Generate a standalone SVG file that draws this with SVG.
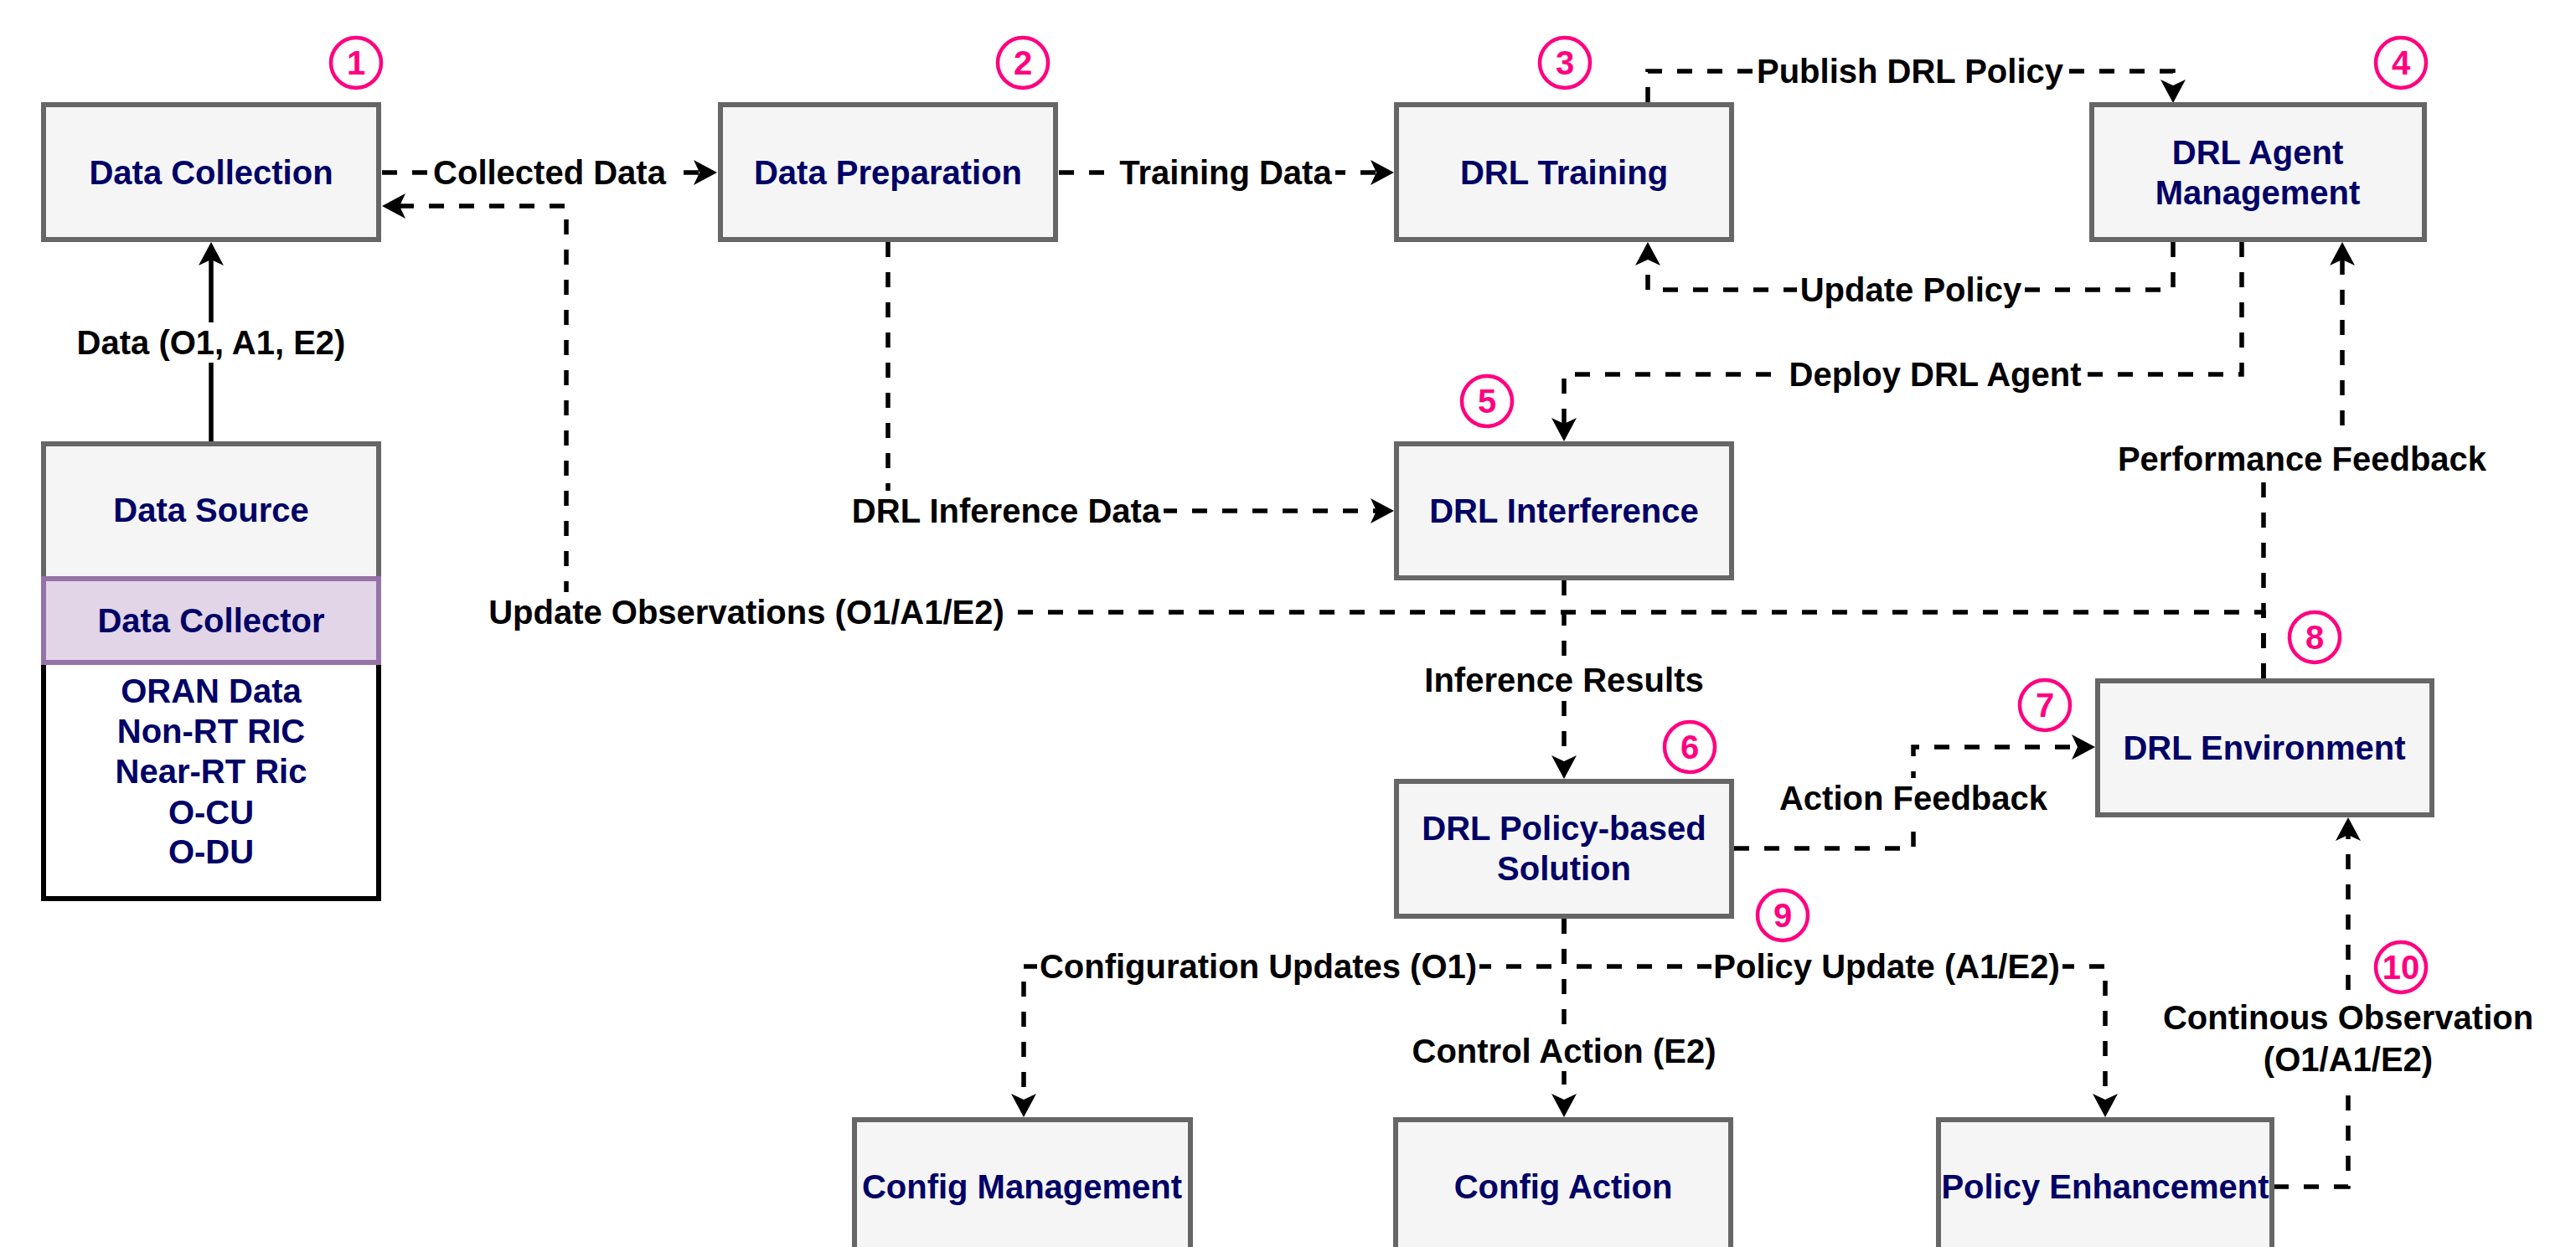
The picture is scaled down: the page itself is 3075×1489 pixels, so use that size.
<svg xmlns="http://www.w3.org/2000/svg" width="3075" height="1489" viewBox="0 0 3075 1489">
  <style>
    .box { fill: #f5f5f5; stroke: #666666; stroke-width: 6; }
    .nt { font-family: "Liberation Sans", Arial, Helvetica, sans-serif; font-weight: bold; font-size: 40px; fill: #000066; text-anchor: middle; }
    .lt { font-family: "Liberation Sans", Arial, Helvetica, sans-serif; font-weight: bold; font-size: 40px; fill: #000000; text-anchor: middle; }
    .lbg { fill: #ffffff; }
    .edge { fill: none; stroke: #000000; stroke-width: 5.5; stroke-dasharray: 18 18; }
    .solid { stroke-dasharray: none; }
    .badge circle { fill: #ffffff; stroke: #FF0080; stroke-width: 4.5; }
    .badge text { font-family: "Liberation Sans", Arial, Helvetica, sans-serif; font-weight: bold; font-size: 40px; fill: #FF0080; text-anchor: middle; }
  </style>
  <defs>
    <marker id="arr" viewBox="-8 -16 30 32" markerWidth="30" markerHeight="32" refX="0" refY="0" orient="auto" markerUnits="userSpaceOnUse" overflow="visible">
      <path d="M21,0 L-7,-15 L0,0 L-7,15 Z" fill="#000000"/>
    </marker>
  </defs>
  <rect width="3075" height="1489" fill="#ffffff"/>

  <!-- connectors -->
  <g id="connectors">
    <path class="edge solid" d="M252,527 V310" marker-end="url(#arr)"/>
    <path class="edge" d="M456,206 H835" marker-end="url(#arr)"/>
    <path class="edge" d="M2702,810 V731 H676 V246 H477" marker-end="url(#arr)"/>
    <path class="edge" d="M1264,206 H1643" marker-end="url(#arr)"/>
    <path class="edge" d="M1967,122 V85 H2594 V102" marker-end="url(#arr)"/>
    <path class="edge" d="M2594,289 V346 H1967 V310" marker-end="url(#arr)"/>
    <path class="edge" d="M2676,289 V447 H1867 V506" marker-end="url(#arr)"/>
    <path class="edge" d="M2702,810 V548 H2796 V310" marker-end="url(#arr)"/>
    <path class="edge" d="M1060,289 V610 H1643" marker-end="url(#arr)"/>
    <path class="edge" d="M1867,693 V909" marker-end="url(#arr)"/>
    <path class="edge" d="M2070,1013 H2284 V892 H2480" marker-end="url(#arr)"/>
    <path class="edge" d="M1867,1097 V1154 H1222 V1313" marker-end="url(#arr)"/>
    <path class="edge" d="M1867,1097 V1313" marker-end="url(#arr)"/>
    <path class="edge" d="M1867,1097 V1154 H2513 V1313" marker-end="url(#arr)"/>
    <path class="edge" d="M2714,1417 H2803 V997" marker-end="url(#arr)"/>

    <!-- connector labels -->
    <g id="edge-labels">
      <rect class="lbg" x="88" y="385" width="328" height="48"/>
      <text class="lt" x="252" y="423">Data (O1, A1, E2)</text>
      <rect class="lbg" x="514" y="182" width="284" height="48"/>
      <text class="lt" x="656" y="220">Collected Data</text>
      <rect class="lbg" x="1332" y="182" width="262" height="48"/>
      <text class="lt" x="1463" y="220">Training Data</text>
      <rect class="lbg" x="2093" y="61" width="373" height="48"/>
      <text class="lt" x="2280" y="99">Publish DRL Policy</text>
      <rect class="lbg" x="2145" y="322" width="271" height="48"/>
      <text class="lt" x="2281" y="360">Update Policy</text>
      <rect class="lbg" x="2131" y="423" width="357" height="48"/>
      <text class="lt" x="2310" y="461">Deploy DRL Agent</text>
      <rect class="lbg" x="2525" y="524" width="446" height="48"/>
      <text class="lt" x="2748" y="562">Performance Feedback</text>
      <rect class="lbg" x="1014" y="586" width="375" height="48"/>
      <text class="lt" x="1201" y="624">DRL Inference Data</text>
      <rect class="lbg" x="580" y="707" width="622" height="48"/>
      <text class="lt" x="891" y="745">Update Observations (O1/A1/E2)</text>
      <rect class="lbg" x="1697" y="788" width="340" height="48"/>
      <text class="lt" x="1867" y="826">Inference Results</text>
      <rect class="lbg" x="2121" y="929" width="326" height="48"/>
      <text class="lt" x="2284" y="967">Action Feedback</text>
      <rect class="lbg" x="1238" y="1130" width="528" height="48"/>
      <text class="lt" x="1502" y="1168">Configuration Updates (O1)</text>
      <rect class="lbg" x="1682" y="1231" width="370" height="48"/>
      <text class="lt" x="1867" y="1269">Control Action (E2)</text>
      <rect class="lbg" x="2043" y="1130" width="419" height="48"/>
      <text class="lt" x="2252" y="1168">Policy Update (A1/E2)</text>
      <rect class="lbg" x="2579" y="1190" width="448" height="100"/>
      <text class="lt" x="2803" y="1229">Continous Observation</text>
      <text class="lt" x="2803" y="1279">(O1/A1/E2)</text>
    </g>
  </g>

  <!-- nodes -->
  <g id="data-collection">
    <rect class="box" x="52" y="125" width="400" height="161"/>
    <text class="nt" x="252" y="220">Data Collection</text>
  </g>
  <g id="data-preparation">
    <rect class="box" x="860" y="125" width="400" height="161"/>
    <text class="nt" x="1060" y="220">Data Preparation</text>
  </g>
  <g id="drl-training">
    <rect class="box" x="1667" y="125" width="400" height="161"/>
    <text class="nt" x="1867" y="220">DRL Training</text>
  </g>
  <g id="drl-agent-management">
    <rect class="box" x="2497" y="125" width="397" height="161"/>
    <text class="nt" x="2695" y="196">DRL Agent</text>
    <text class="nt" x="2695" y="244">Management</text>
  </g>
  <g id="data-source">
    <rect x="52" y="791" width="400" height="282" fill="#ffffff" stroke="#000000" stroke-width="6"/>
    <rect class="box" x="52" y="530" width="400" height="161"/>
    <rect x="52" y="691" width="400" height="100" fill="#e1d5e7" stroke="#9673a6" stroke-width="6"/>
    <text class="nt" x="252" y="623">Data Source</text>
    <text class="nt" x="252" y="755">Data Collector</text>
    <text class="nt" x="252" y="839">ORAN Data</text>
    <text class="nt" x="252" y="887">Non-RT RIC</text>
    <text class="nt" x="252" y="935">Near-RT Ric</text>
    <text class="nt" x="252" y="984">O-CU</text>
    <text class="nt" x="252" y="1031">O-DU</text>
  </g>
  <g id="drl-interference">
    <rect class="box" x="1667" y="530" width="400" height="160"/>
    <text class="nt" x="1867" y="624">DRL Interference</text>
  </g>
  <g id="drl-environment">
    <rect class="box" x="2504" y="813" width="399" height="160"/>
    <text class="nt" x="2703" y="907">DRL Environment</text>
  </g>
  <g id="drl-policy-solution">
    <rect class="box" x="1667" y="933" width="400" height="161"/>
    <text class="nt" x="1867" y="1003">DRL Policy-based</text>
    <text class="nt" x="1867" y="1051">Solution</text>
  </g>
  <g id="config-management">
    <rect class="box" x="1020" y="1337" width="401" height="161"/>
    <text class="nt" x="1220" y="1431">Config Management</text>
  </g>
  <g id="config-action">
    <rect class="box" x="1666" y="1337" width="400" height="161"/>
    <text class="nt" x="1866" y="1431">Config Action</text>
  </g>
  <g id="policy-enhancement">
    <rect class="box" x="2314" y="1337" width="398" height="161"/>
    <text class="nt" x="2513" y="1431">Policy Enhancement</text>
  </g>

  <!-- step badges -->
  <g id="step-badges" class="badge">
    <g id="step-1"><circle cx="425" cy="75" r="30"/><text x="425" y="89">1</text></g>
    <g id="step-2"><circle cx="1221" cy="75" r="30"/><text x="1221" y="89">2</text></g>
    <g id="step-3"><circle cx="1868" cy="75" r="30"/><text x="1868" y="89">3</text></g>
    <g id="step-4"><circle cx="2866" cy="75" r="30"/><text x="2866" y="89">4</text></g>
    <g id="step-5"><circle cx="1775" cy="479" r="30"/><text x="1775" y="493">5</text></g>
    <g id="step-6"><circle cx="2017" cy="892" r="30"/><text x="2017" y="906">6</text></g>
    <g id="step-7"><circle cx="2441" cy="842" r="30"/><text x="2441" y="856">7</text></g>
    <g id="step-8"><circle cx="2763" cy="761" r="30"/><text x="2763" y="775">8</text></g>
    <g id="step-9"><circle cx="2128" cy="1093" r="30"/><text x="2128" y="1107">9</text></g>
    <g id="step-10"><circle cx="2866" cy="1155" r="30"/><text x="2866" y="1169">10</text></g>
  </g>
</svg>
